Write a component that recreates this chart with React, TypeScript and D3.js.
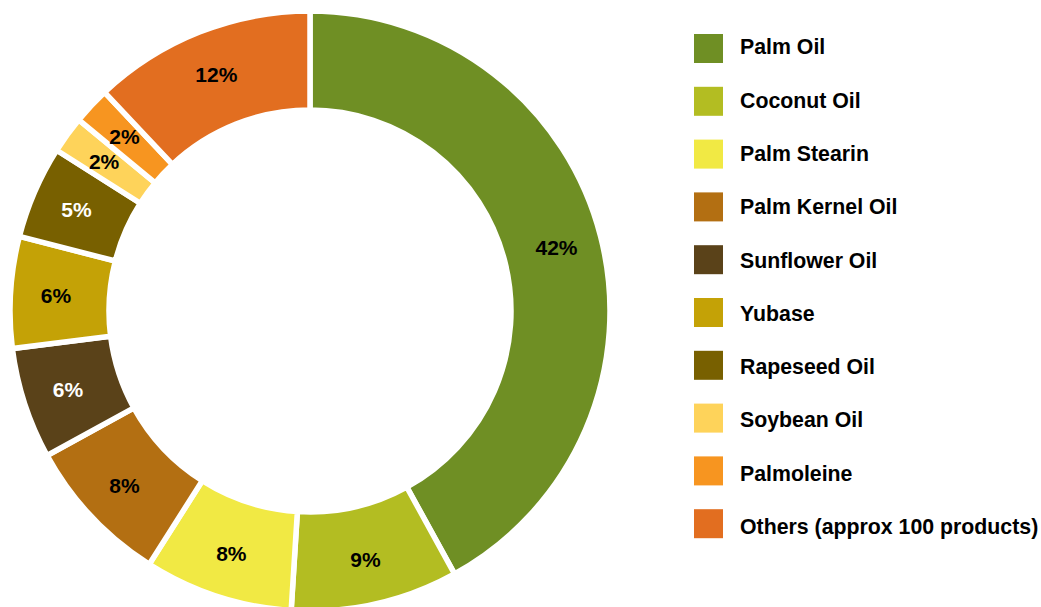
import React from "react";
import * as d3 from "d3";

const categories = [
  "Palm Oil",
  "Coconut Oil",
  "Palm Stearin",
  "Palm Kernel Oil",
  "Sunflower Oil",
  "Yubase",
  "Rapeseed Oil",
  "Soybean Oil",
  "Palmoleine",
  "Others (approx 100 products)",
];
const values = [42, 9, 8, 8, 6, 6, 5, 2, 2, 12];
const colors = [
  "#6f8f24",
  "#b3bd22",
  "#f1e944",
  "#b36f12",
  "#5a4219",
  "#c4a206",
  "#786000",
  "#fed35a",
  "#f79520",
  "#e26e20",
];
const labelColors = ["#000", "#000", "#000", "#000", "#fff", "#000", "#fff", "#000", "#000", "#000"];

export default function App() {
  const W = 1041;
  const H = 607;
  const cx = 310;
  const cy = 311;
  const outerR = 300;
  const innerR = 201;
  const data = categories.map((c, i) => ({ c, v: values[i], i }));
  const pie = d3.pie<any>().value((d) => d.v).sort(null);
  const arcs = pie(data);
  const arc = d3.arc<any>().innerRadius(innerR).outerRadius(outerR);
  const labelArc = d3.arc<any>().innerRadius(innerR + 4).outerRadius(outerR + 4);
  const sq = d3.scaleLinear().domain([0, 9]).range([34, 34 + 52.8 * 9]);
  const ty = d3.scaleLinear().domain([0, 9]).range([54.3, 54.3 + 53.3 * 9]);
  const font = "Liberation Sans, Arial, sans-serif";
  return (
    <svg
      width={W}
      height={H}
      style={{ position: "absolute", left: 0, top: 0, background: "#fff" }}
    >
      <g transform={`translate(${cx},${cy})`}>
        {arcs.map((a, k) => (
          <path
            key={k}
            d={arc(a) as string}
            fill={colors[k]}
            stroke="#fff"
            strokeWidth={5.5}
            strokeLinejoin="miter"
          />
        ))}
        {arcs.map((a, k) => {
          const [x, y] = labelArc.centroid(a);
          return (
            <text
              key={k}
              x={x}
              y={y}
              textAnchor="middle"
              dominantBaseline="central"
              fontFamily={font}
              fontWeight="bold"
              fontSize={21}
              fill={labelColors[k]}
            >
              {values[k]}%
            </text>
          );
        })}
      </g>
      {categories.map((c, i) => (
        <g key={c}>
          <rect x={694} y={sq(i)} width={29} height={29} fill={colors[i]} />
          <text
            x={740}
            y={ty(i)}
            fontFamily={font}
            fontWeight="bold"
            fontSize={21.3}
            fill="#000"
          >
            {c}
          </text>
        </g>
      ))}
    </svg>
  );
}
